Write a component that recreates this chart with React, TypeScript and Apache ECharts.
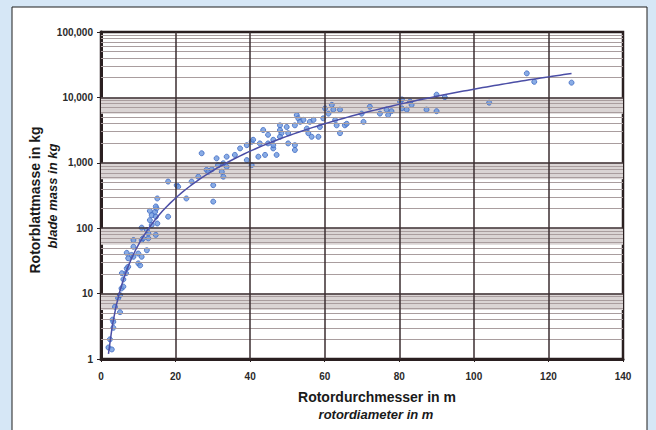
import React, { useEffect, useRef } from "react";
import * as echarts from "echarts";

// Rotor diameter (m) and blade mass (kg)
const diameters = [
  2.0, 2.9, 2.4, 3.3, 3.1, 3.3, 3.75, 5.1, 4.6, 5.1, 5.5, 6.0, 6.0, 6.7, 5.6, 6.9, 7.3, 7.3, 6.9, 8.2,
  8.7, 10.0, 10.5, 10.9, 10.0, 12.3, 8.7, 8.7, 10.9, 11.3, 12.7, 12.7, 10.9, 12.3, 13.1, 13.6, 14.7, 13.1, 13.6, 14.5,
  14.9, 14.7, 15.1, 15.1, 14.7, 18.0, 18.0, 20.3, 20.7, 22.9, 24.3, 26.1, 27.0, 28.3, 28.8, 29.7, 30.1, 30.1, 31.0, 31.4,
  32.8, 33.7, 32.4, 32.8, 33.7, 35.9, 37.3, 39.1, 39.1, 40.4, 40.4, 40.8, 42.2, 42.6, 44.0, 43.5, 44.8, 44.8, 46.2, 46.2,
  47.1, 46.2, 48.0, 48.0, 48.4, 48.0, 49.8, 50.2, 50.2, 52.0, 52.0, 52.0, 52.5, 52.9, 53.4, 54.3, 55.2, 55.6, 56.0, 57.0,
  56.5, 58.3, 58.7, 59.6, 60.1, 61.0, 61.9, 62.3, 62.8, 63.2, 64.1, 64.1, 65.4, 65.9, 69.9, 70.4, 72.1, 74.8, 76.6, 77.0,
  77.9, 80.2, 80.7, 82.0, 82.9, 87.3, 90.0, 80.7, 83.3, 90.0, 92.2, 104.1, 114.2, 116.2, 126.2,
];
const masses = [
  1.5, 1.4, 2.0, 3.0, 4.0, 3.7, 6.3, 5.2, 8.5, 9.5, 12, 12.8, 16.5, 20.5, 20.5, 24.3, 25.7, 34.7, 42, 39,
  36.6, 29, 27, 36.6, 41, 46, 52, 66, 66, 70, 70, 83, 102, 94, 133, 112, 79, 184, 158, 178,
  201, 150, 118, 285, 215, 150, 516, 455, 430, 285, 516, 613, 1400, 780, 730, 795, 455, 255, 1170, 920,
  985, 1240, 730, 613, 870, 1320, 1660, 1100, 1860, 2100, 920, 2250, 1240, 1980, 1320, 3170, 2680, 1980, 1660, 1860,
  1320, 2250, 3740, 3170, 2840, 2500, 3530, 2840, 1980, 1860, 1570, 3740, 5370, 4790, 4230, 4530, 3340, 2840, 4230, 4530,
  2500, 2500, 3530, 4790, 6800, 5650, 7690, 6500, 4530, 3740, 2840, 6500, 3740, 3950, 5650, 4230, 7200, 5650, 6500, 5370,
  6150, 8650, 6800, 6500, 8650, 6500, 6150, 9300, 7690, 11000, 10100, 8300, 23300, 17300, 16800,
];

const xTicks = [0, 20, 40, 60, 80, 100, 120, 140];
const decades = [1, 10, 100, 1000, 10000, 100000];
const minorFactors = [2, 3, 4, 5, 6, 7, 8, 9];

const xTitle = "Rotordurchmesser in m";
const xTitle2 = "rotordiameter in m";
const yTitle = "Rotorblattmasse in kg";
const yTitle2 = "blade mass in kg";

const FONT = "'Liberation Sans', Arial, sans-serif";

function fmt(v: number): string {
  return String(Math.round(v)).replace(/\B(?=(\d{3})+(?!\d))/g, ",");
}

export default function App() {
  const ref = useRef<HTMLDivElement>(null);
  useEffect(() => {
    if (!ref.current) return;
    const chart = echarts.init(ref.current, undefined, { renderer: "svg" });

    const points = diameters.map((d, i) => [d, masses[i]]);

    // power-law trend fitted (log-log least squares) to the data
    const lx = diameters.map((d) => Math.log10(d));
    const ly = masses.map((m) => Math.log10(m));
    const n = lx.length;
    const mx = lx.reduce((a, b) => a + b, 0) / n;
    const my = ly.reduce((a, b) => a + b, 0) / n;
    let sxy = 0, sxx = 0;
    for (let i = 0; i < n; i++) {
      sxy += (lx[i] - mx) * (ly[i] - my);
      sxx += (lx[i] - mx) * (lx[i] - mx);
    }
    const b = sxy / sxx;
    const a = my - b * mx;
    const dMin = Math.min(...diameters);
    const dMax = Math.max(...diameters);
    const trend: number[][] = [];
    for (let k = 0; k <= 120; k++) {
      const d = dMin + ((dMax - dMin) * k) / 120;
      trend.push([d, Math.pow(10, a + b * Math.log10(d))]);
    }

    const minorLines: any[] = [];
    decades.slice(0, -1).forEach((dec) =>
      minorFactors.forEach((f) => minorLines.push({ yAxis: dec * f }))
    );
    const bands = decades
      .slice(1, 5)
      .map((dec) => [{ yAxis: dec * 0.56 }, { yAxis: dec }]);

    chart.setOption({
      animation: false,
      backgroundColor: "#d6e7f6",
      graphic: [
        {
          type: "rect",
          shape: { x: 12, y: 7, width: 635, height: 440 },
          style: { fill: "#ffffff", stroke: "#1e1e1e", lineWidth: 1 },
          z: -10,
        },
        {
          type: "text",
          x: 377,
          y: 397,
          style: {
            text: xTitle,
            font: `bold 14px ${FONT}`,
            fill: "#1a1a1a",
            textAlign: "center",
            textVerticalAlign: "middle",
          },
        },
        {
          type: "text",
          x: 376,
          y: 414,
          style: {
            text: xTitle2,
            font: `italic bold 13px ${FONT}`,
            fill: "#1a1a1a",
            textAlign: "center",
            textVerticalAlign: "middle",
          },
        },
        {
          type: "text",
          x: 35,
          y: 200,
          rotation: Math.PI / 2,
          style: {
            text: yTitle,
            font: `bold 14px ${FONT}`,
            fill: "#1a1a1a",
            textAlign: "center",
            textVerticalAlign: "middle",
          },
        },
        {
          type: "text",
          x: 52,
          y: 196,
          rotation: Math.PI / 2,
          style: {
            text: yTitle2,
            font: `italic bold 13px ${FONT}`,
            fill: "#1a1a1a",
            textAlign: "center",
            textVerticalAlign: "middle",
          },
        },
      ],
      grid: {
        left: 101,
        top: 32,
        right: 33,
        bottom: 71,
        show: true,
        backgroundColor: "#ffffff",
        borderColor: "#2a1f20",
        borderWidth: 2.5,
      },
      xAxis: {
        type: "value",
        min: xTicks[0],
        max: xTicks[xTicks.length - 1],
        interval: 20,
        axisLine: { show: true, lineStyle: { color: "#2a1f20", width: 3 } },
        axisTick: { show: true, length: 3, lineStyle: { color: "#2a1f20" } },
        axisLabel: {
          margin: 12,
          color: "#2a2a2a",
          fontSize: 10,
          fontWeight: "bold",
          fontFamily: FONT,
        },
        splitLine: { show: false },
      },
      yAxis: {
        type: "log",
        logBase: 10,
        min: decades[0],
        max: decades[decades.length - 1],
        axisLine: { show: true, lineStyle: { color: "#2a1f20", width: 3 } },
        axisTick: { show: true, length: 4, lineStyle: { color: "#2a1f20" } },
        axisLabel: {
          margin: 8,
          color: "#2a2a2a",
          fontSize: 10,
          fontWeight: "bold",
          fontFamily: FONT,
          formatter: (v: number) => fmt(v),
        },
        splitLine: { show: false },
      },
      series: [
        {
          type: "line",
          data: [],
          z: 1,
          silent: true,
          markArea: {
            silent: true,
            itemStyle: { color: "#dad4d4" },
            data: bands,
          },
        },
        {
          type: "line",
          data: [],
          z: 2,
          silent: true,
          markLine: {
            silent: true,
            symbol: "none",
            label: { show: false },
            lineStyle: { color: "#a99d9e", width: 1.2, type: "solid" },
            data: minorLines,
          },
        },
        {
          type: "line",
          data: [],
          z: 3,
          silent: true,
          markLine: {
            silent: true,
            symbol: "none",
            label: { show: false },
            lineStyle: { color: "#3b2e30", width: 1.5, type: "solid" },
            data: [
              ...decades.slice(1, -1).map((v) => ({ yAxis: v })),
              ...xTicks.slice(1, -1).map((v) => ({ xAxis: v })),
            ],
          },
        },
        {
          type: "scatter",
          data: points,
          z: 4,
          symbol: "circle",
          symbolSize: 5,
          itemStyle: { color: "#6b97de", borderColor: "#3c68c2", borderWidth: 1 },
        },
        {
          type: "line",
          data: trend,
          z: 5,
          showSymbol: false,
          symbol: "none",
          lineStyle: { color: "#4b4ea6", width: 1.5 },
        },
      ],
    });
    return () => chart.dispose();
  }, []);
  return (
    <div
      ref={ref}
      style={{ position: "fixed", left: 0, top: 0, width: 656, height: 430 }}
    />
  );
}
